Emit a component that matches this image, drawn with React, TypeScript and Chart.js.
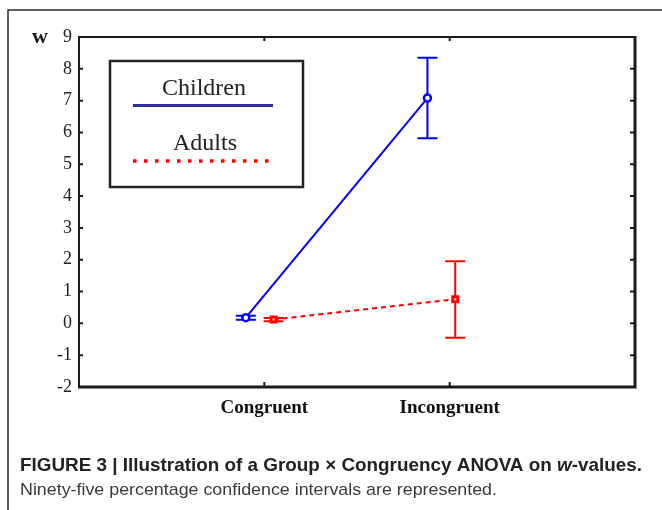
import React, { useEffect, useRef } from 'react';
import { Chart, registerables } from 'chart.js';

Chart.register(...registerables);

// ---- data ----
const categories = ['Congruent', 'Incongruent'];
const categoryPositions = [1, 2];
const seriesNames = ['Children', 'Adults'];
const childrenX = [0.9, 1.88];
const childrenMean = [0.18, 7.08];
const childrenLow = [0.11, 5.82];
const childrenHigh = [0.24, 8.35];
const adultsX = [1.05, 2.03];
const adultsMean = [0.12, 0.76];
const adultsLow = [0.07, -0.45];
const adultsHigh = [0.17, 1.95];
const yTickValues = [-2, -1, 0, 1, 2, 3, 4, 5, 6, 7, 8, 9];
const yAxisLabel = 'w';
const captionBold = 'FIGURE 3 | Illustration of a Group \u00d7 Congruency ANOVA on ';
const captionItalic = 'w';
const captionBoldEnd = '-values.';
const captionLine2 = 'Ninety-five percentage confidence intervals are represented.';

const BLUE = '#0000ff';
const RED = '#ff0000';
const LEGEND_BLUE = '#2e2e9a';
const INK = '#1a1a1a';
const SERIF = '"Liberation Serif", "Times New Roman", serif';
const SANS = '"Liberation Sans", Arial, sans-serif';

const figurePlugin = {
  id: 'figurePlugin',
  beforeDraw(chart: any) {
    const ctx = chart.ctx;
    ctx.save();
    ctx.fillStyle = '#ffffff';
    ctx.fillRect(0, 0, chart.width, chart.height);
    // outer figure frame (top + left)
    ctx.strokeStyle = '#2a2a2a';
    ctx.lineWidth = 1.5;
    ctx.beginPath();
    ctx.moveTo(8, chart.height);
    ctx.lineTo(8, 10);
    ctx.lineTo(chart.width, 10);
    ctx.stroke();
    ctx.restore();
  },
  beforeDatasetsDraw(chart: any) {
    const ctx = chart.ctx;
    const xs = chart.scales.x;
    const ys = chart.scales.y;
    const drawBars = (xv: number[], lo: number[], hi: number[], color: string) => {
      ctx.save();
      ctx.strokeStyle = color;
      ctx.lineWidth = 2;
      ctx.setLineDash([]);
      for (let i = 0; i < xv.length; i++) {
        const px = xs.getPixelForValue(xv[i]);
        const pl = ys.getPixelForValue(lo[i]);
        const ph = ys.getPixelForValue(hi[i]);
        ctx.beginPath();
        ctx.moveTo(px, pl);
        ctx.lineTo(px, ph);
        ctx.moveTo(px - 10, pl);
        ctx.lineTo(px + 10, pl);
        ctx.moveTo(px - 10, ph);
        ctx.lineTo(px + 10, ph);
        ctx.stroke();
      }
      ctx.restore();
    };
    drawBars(childrenX, childrenLow, childrenHigh, BLUE);
    drawBars(adultsX, adultsLow, adultsHigh, RED);
  },
  afterDraw(chart: any) {
    const ctx = chart.ctx;
    const a = chart.chartArea;
    const xs = chart.scales.x;
    const ys = chart.scales.y;
    ctx.save();
    // plot frame
    ctx.strokeStyle = INK;
    ctx.lineWidth = 2;
    ctx.beginPath();
    ctx.moveTo(a.left, a.bottom);
    ctx.lineTo(a.left, a.top);
    ctx.lineTo(a.right, a.top);
    ctx.stroke();
    ctx.lineWidth = 3;
    ctx.beginPath();
    ctx.moveTo(a.right, a.top - 1);
    ctx.lineTo(a.right, a.bottom);
    ctx.lineTo(a.left - 1, a.bottom);
    ctx.stroke();
    // inward ticks
    ctx.lineWidth = 2;
    ctx.beginPath();
    yTickValues.forEach((v) => {
      const py = ys.getPixelForValue(v);
      ctx.moveTo(a.left, py);
      ctx.lineTo(a.left + 4, py);
      ctx.moveTo(a.right, py);
      ctx.lineTo(a.right - 5, py);
    });
    categoryPositions.forEach((v) => {
      const px = xs.getPixelForValue(v);
      ctx.moveTo(px, a.top);
      ctx.lineTo(px, a.top + 4);
      ctx.moveTo(px, a.bottom);
      ctx.lineTo(px, a.bottom - 5);
    });
    ctx.stroke();

    // y axis label "w"
    ctx.fillStyle = INK;
    ctx.font = 'bold 22px ' + SERIF;
    ctx.textAlign = 'center';
    ctx.textBaseline = 'alphabetic';
    ctx.fillText(yAxisLabel, 40, 43);

    // legend box
    ctx.lineWidth = 2.5;
    ctx.strokeStyle = '#222';
    ctx.strokeRect(110, 61, 193, 126);
    ctx.font = '24px ' + SERIF;
    ctx.fillStyle = '#222';
    ctx.fillText(seriesNames[0], 204, 95);
    ctx.fillText(seriesNames[1], 205, 150);
    ctx.strokeStyle = LEGEND_BLUE;
    ctx.lineWidth = 3;
    ctx.beginPath();
    ctx.moveTo(133, 105.5);
    ctx.lineTo(273, 105.5);
    ctx.stroke();
    ctx.strokeStyle = RED;
    ctx.lineWidth = 3.5;
    ctx.setLineDash([3.5, 7.5]);
    ctx.beginPath();
    ctx.moveTo(133, 161);
    ctx.lineTo(270, 161);
    ctx.stroke();
    ctx.setLineDash([]);

    // caption
    const fit = (segs: [string, string][], x: number, y: number, w: number, color: string) => {
      let total = 0;
      segs.forEach(([t, f]) => {
        ctx.font = f;
        total += ctx.measureText(t).width;
      });
      ctx.save();
      ctx.translate(x, y);
      ctx.scale(w / total, 1);
      ctx.fillStyle = color;
      ctx.textAlign = 'left';
      ctx.textBaseline = 'alphabetic';
      let cx = 0;
      segs.forEach(([t, f]) => {
        ctx.font = f;
        ctx.fillText(t, cx, 0);
        cx += ctx.measureText(t).width;
      });
      ctx.restore();
    };
    fit(
      [
        [captionBold, 'bold 19px ' + SANS],
        [captionItalic, 'italic bold 19px ' + SANS],
        [captionBoldEnd, 'bold 19px ' + SANS],
      ],
      20,
      471,
      622,
      '#222'
    );
    fit([[captionLine2, '17px ' + SANS]], 20, 495, 477, '#3a3a3a');
    ctx.restore();
  },
};

export default function App() {
  const ref = useRef<HTMLCanvasElement | null>(null);
  useEffect(() => {
    if (!ref.current) return;
    const chart = new Chart(ref.current, {
      type: 'line',
      data: {
        datasets: [
          {
            label: seriesNames[0],
            data: childrenX.map((x, i) => ({ x, y: childrenMean[i] })),
            borderColor: BLUE,
            backgroundColor: '#ffffff',
            borderWidth: 2,
            pointStyle: 'circle',
            pointRadius: 3.5,
            pointBorderWidth: 2.5,
            pointBorderColor: BLUE,
            pointBackgroundColor: '#ffffff',
          },
          {
            label: seriesNames[1],
            data: adultsX.map((x, i) => ({ x, y: adultsMean[i] })),
            borderColor: RED,
            backgroundColor: '#ffffff',
            borderWidth: 2,
            borderDash: [5, 4],
            pointStyle: 'rect',
            pointRadius: 3.5,
            pointBorderWidth: 3,
            pointBorderColor: RED,
            pointBackgroundColor: '#ffffff',
          },
        ],
      },
      options: {
        responsive: false,
        animation: false,
        layout: { padding: { top: 37, right: 27, bottom: 83, left: 0 } },
        plugins: { legend: { display: false }, tooltip: { enabled: false } },
        scales: {
          x: {
            type: 'linear',
            min: 0,
            max: 3,
            grid: { display: false, drawTicks: false, tickLength: 0 },
            border: { display: false },
            afterBuildTicks: (s: any) => {
              s.ticks = categoryPositions.map((v) => ({ value: v }));
            },
            afterFit: (s: any) => {
              s.height = 40;
            },
            ticks: {
              padding: 10,
              color: '#111',
              font: { family: SERIF, size: 19, weight: 'bold' },
              callback: (v: any) => {
                const i = categoryPositions.indexOf(Number(v));
                return i >= 0 ? categories[i] : '';
              },
            },
          },
          y: {
            type: 'linear',
            min: -2,
            max: 9,
            grid: { display: false, drawTicks: false, tickLength: 0 },
            border: { display: false },
            afterBuildTicks: (s: any) => {
              s.ticks = yTickValues.map((v) => ({ value: v }));
            },
            afterFit: (s: any) => {
              s.width = 79;
            },
            ticks: {
              padding: 7,
              color: '#222',
              font: { family: SERIF, size: 18 },
            },
          },
        },
      },
      plugins: [figurePlugin],
    } as any);
    return () => chart.destroy();
  }, []);
  return (
    <div style={{ position: 'absolute', left: 0, top: 0, width: 662, height: 510 }}>
      <canvas ref={ref} width={662} height={510} style={{ display: 'block' }} />
    </div>
  );
}
